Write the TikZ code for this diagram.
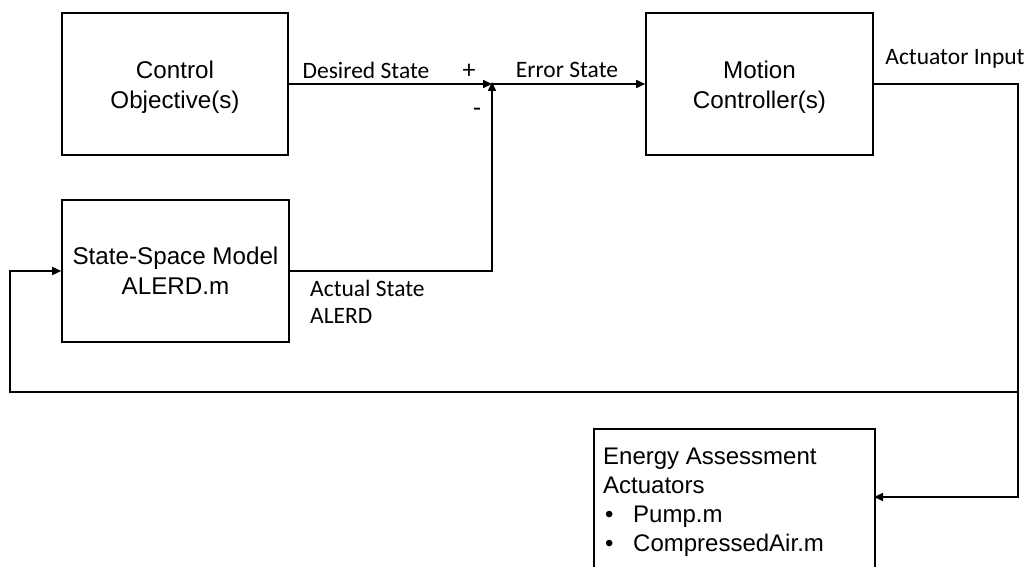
\documentclass[tikz,border=0pt]{standalone}
\usepackage{fontspec}
\setmainfont{Liberation Sans}
\newfontfamily\labfont{Carlito}
\usetikzlibrary{arrows.meta}
\begin{document}
\begin{tikzpicture}[x=1pt,y=-1pt,
  blk/.style={draw,line width=1.6pt,rectangle,inner sep=0pt,align=center,font=\fontsize{24.2}{30}\selectfont},
  btxt/.style={inner sep=0pt,align=center,font=\fontsize{24.2}{30}\selectfont},
  lab/.style={inner sep=0pt,font=\labfont\fontsize{23.5}{28}\selectfont},
  conn/.style={line width=1.6pt},
  arr/.style={conn,-{Triangle[length=9pt,width=8pt]}}]
\useasboundingbox (0,0) rectangle (1030,567);
\clip (0,0) rectangle (1030,567);
\fill[white] (0,0) rectangle (1030,567);
\node[blk,minimum width=226pt,minimum height=142pt] (ctrl) at (175,84) {};
\node[btxt] (ctrltxt) at (175,87) {Control\\Objective(s)};
\node[blk,minimum width=227pt,minimum height=142pt] (mc) at (759.5,84) {};
\node[btxt] (mctxt) at (759.5,87) {Motion\\Controller(s)};
\node[blk,minimum width=227pt,minimum height=142pt] (ss) at (175.5,271) {State-Space Model\\ALERD.m};
\node[blk,minimum width=281pt,minimum height=146pt,anchor=north west] (en) at (593,428) {};
\node[anchor=north west,inner sep=0pt,align=left,font=\fontsize{24}{29}\selectfont] (entxt) at (603,448)
 {Energy Assessment\\Actuators\\\hbox to 30pt{\hspace{2pt}\textbullet\hfil}Pump.m\\\hbox to 30pt{\hspace{2pt}\textbullet\hfil}CompressedAir.m};
\coordinate (j) at (492,84);
\coordinate (ar) at (1018,84);
\coordinate (fb) at (1018,392);
\coordinate (fl) at (10,392);
\coordinate (ein) at (874,497);
\draw[arr] (ctrl.east) -- (j);
\draw[arr] (j) -- (mc.west);
\draw[arr] (ss.east) -| ([yshift=2pt]j);
\draw[arr] (mc.east) -- (ar) |- (ein);
\draw[arr] (fb) -- (fl) |- (ss.west);
\node[lab] (ds) at (366,70) {Desired State};
\node[lab,font=\labfont\fontsize{26}{28}\selectfont] (plus) at (469,71) {+};
\node[lab,font=\labfont\fontsize{26}{28}\selectfont] (minus) at (477,112) {-};
\node[lab] (es) at (567,70) {Error State};
\node[lab] (ai) at (955,59) {Actuator Input};
\node[lab,anchor=west] (as) at (310,288) {Actual State};
\node[lab,anchor=west] (al) at (310,316) {ALERD};
\end{tikzpicture}
\end{document}
